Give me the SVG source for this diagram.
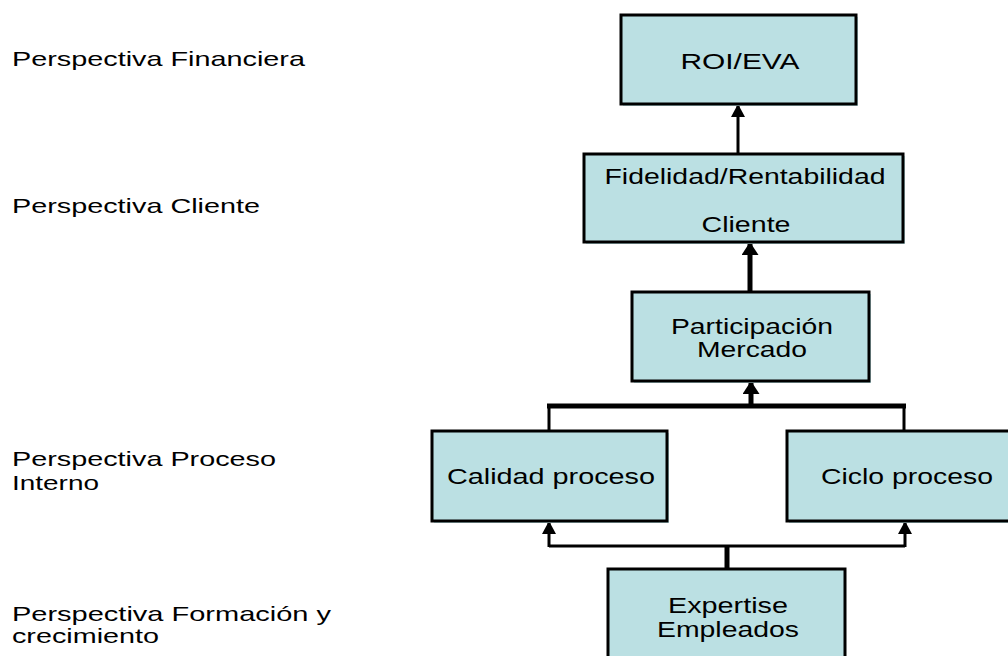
<svg xmlns="http://www.w3.org/2000/svg" width="1008" height="656" viewBox="0 0 1008 656">
  <style>
    .box { fill: #BBE0E3; stroke: #000; stroke-width: 3; }
    .shadow { fill: #BBE0E3; stroke: none; }
    .label { font-family: "Liberation Sans", Arial, sans-serif; font-size: 21px; fill: #000; }
    .ntext { font-family: "Liberation Sans", Arial, sans-serif; font-size: 22px; fill: #000; text-anchor: middle; }
    .thin { fill: none; stroke: #000; stroke-width: 3; }
    .thick { fill: none; stroke: #000; stroke-width: 5; }
  </style>
  <defs>
    <marker id="head" viewBox="0 0 14 13" refX="7" refY="1" markerWidth="14" markerHeight="13" markerUnits="userSpaceOnUse" orient="0">
      <path d="M7 0 L14 13 L0 13 Z" fill="#000"/>
    </marker>
    <marker id="headWide" viewBox="0 0 17 13" refX="8.5" refY="1" markerWidth="17" markerHeight="13" markerUnits="userSpaceOnUse" orient="0">
      <path d="M8.5 0 L17 13 L0 13 Z" fill="#000"/>
    </marker>
  </defs>

  <rect width="1008" height="656" fill="#fff"/>

  <!-- perspective labels -->
  <g id="perspectives">
    <text class="label" x="12" y="66" textLength="293" lengthAdjust="spacingAndGlyphs">Perspectiva Financiera</text>
    <text class="label" x="12" y="213" textLength="248" lengthAdjust="spacingAndGlyphs">Perspectiva Cliente</text>
    <text class="label" x="12" y="466" textLength="264" lengthAdjust="spacingAndGlyphs">Perspectiva Proceso</text>
    <text class="label" x="12" y="490" textLength="87" lengthAdjust="spacingAndGlyphs">Interno</text>
    <text class="label" x="12" y="621" textLength="319" lengthAdjust="spacingAndGlyphs">Perspectiva Formación y</text>
    <text class="label" x="12" y="643" textLength="147" lengthAdjust="spacingAndGlyphs">crecimiento</text>
  </g>

  <!-- connectors -->
  <g id="connectors">
    <!-- Fidelidad -> ROI/EVA -->
    <line class="thin" x1="738" y1="153" x2="738" y2="105" marker-end="url(#head)"/>
    <!-- Participacion -> Fidelidad -->
    <line class="thick" x1="750" y1="291" x2="750" y2="243" marker-end="url(#headWide)"/>
    <!-- process boxes joined and pointing to Participacion -->
    <path class="thin" d="M549 430 V406 M904 430 V406"/>
    <line class="thick" x1="547" y1="406" x2="906" y2="406"/>
    <line class="thick" x1="751" y1="406" x2="751" y2="382" marker-end="url(#headWide)"/>
    <!-- Expertise feeding both process boxes -->
    <line class="thick" x1="727" y1="568" x2="727" y2="546"/>
    <path class="thin" d="M549 546 H905"/>
    <line class="thin" x1="549" y1="547" x2="549" y2="522" marker-end="url(#head)"/>
    <line class="thin" x1="905" y1="547" x2="905" y2="522" marker-end="url(#head)"/>
  </g>

  <g id="roi-eva">
    <rect class="shadow" x="623" y="17" width="235" height="89"/>
    <rect class="box" x="621" y="15" width="235" height="89"/>
    <text class="ntext" x="740" y="69" textLength="119" lengthAdjust="spacingAndGlyphs">ROI/EVA</text>
  </g>

  <g id="fidelidad">
    <rect class="shadow" x="586" y="156" width="319" height="88"/>
    <rect class="box" x="584" y="154" width="319" height="88"/>
    <text class="ntext" x="745" y="184" textLength="281" lengthAdjust="spacingAndGlyphs">Fidelidad/Rentabilidad</text>
    <text class="ntext" x="746" y="232" textLength="89" lengthAdjust="spacingAndGlyphs">Cliente</text>
  </g>

  <g id="participacion">
    <rect class="shadow" x="634" y="294" width="237" height="89"/>
    <rect class="box" x="632" y="292" width="237" height="89"/>
    <text class="ntext" x="752" y="334" textLength="162" lengthAdjust="spacingAndGlyphs">Participación</text>
    <text class="ntext" x="752" y="357" textLength="110" lengthAdjust="spacingAndGlyphs">Mercado</text>
  </g>

  <g id="calidad">
    <rect class="shadow" x="434" y="433" width="235" height="90"/>
    <rect class="box" x="432" y="431" width="235" height="90"/>
    <text class="ntext" x="551" y="484" textLength="208" lengthAdjust="spacingAndGlyphs">Calidad proceso</text>
  </g>

  <g id="ciclo">
    <rect class="shadow" x="789" y="433" width="240" height="90"/>
    <rect class="box" x="787" y="431" width="240" height="90"/>
    <text class="ntext" x="907" y="484" textLength="172" lengthAdjust="spacingAndGlyphs">Ciclo proceso</text>
  </g>

  <g id="expertise">
    <rect class="box" x="608" y="569" width="237" height="100"/>
    <text class="ntext" x="728" y="613" textLength="120" lengthAdjust="spacingAndGlyphs">Expertise</text>
    <text class="ntext" x="728" y="637" textLength="142" lengthAdjust="spacingAndGlyphs">Empleados</text>
  </g>
</svg>
